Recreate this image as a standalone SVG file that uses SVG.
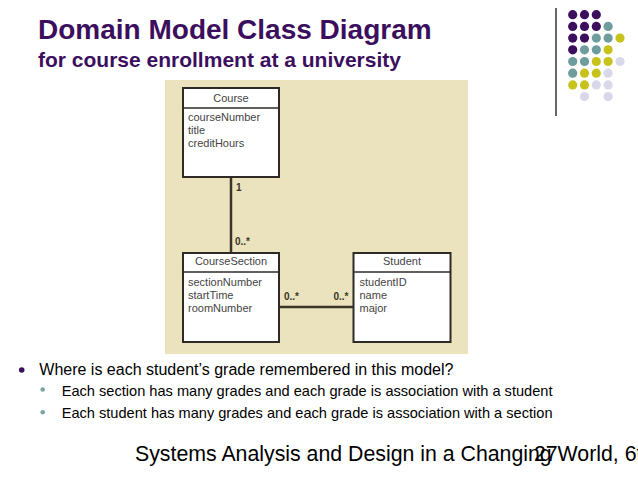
<svg xmlns="http://www.w3.org/2000/svg" width="638" height="479" viewBox="0 0 638 479">
<style>
.title{font-family:"Liberation Sans",Arial,sans-serif;font-weight:bold;fill:#3b0f5e}
.box{fill:#ffffff;stroke:#2e2b26;stroke-width:2}
.div{stroke:#2e2b26;stroke-width:1.5}
.cn{font-family:"Liberation Sans",Arial,sans-serif;font-size:11px;fill:#444;text-anchor:middle}
.at{font-family:"Liberation Sans",Arial,sans-serif;font-size:11px;fill:#444}
.mul{font-family:"Liberation Sans",Arial,sans-serif;font-size:10px;font-weight:bold;fill:#3a3528}
.conn{stroke:#3a3528;stroke-width:2.5;fill:none}
.body{font-family:"Liberation Sans",Arial,sans-serif;fill:#000}
.p{fill:#3b0f5e}.t{fill:#6f9c9c}.y{fill:#c8c31c}.l{fill:#d8d8ea}
</style>
<rect width="638" height="479" fill="#ffffff"/>
<text class="title" x="38" y="39" font-size="28">Domain Model Class Diagram</text>
<text class="title" x="38" y="67" font-size="21">for course enrollment at a university</text>
<line x1="556" y1="8" x2="556" y2="116" stroke="#000" stroke-width="1.2"/>
<g id="dots">
<circle class="p" cx="572.7" cy="14.7" r="4.6"/><circle class="p" cx="584.5" cy="14.7" r="4.6"/><circle class="p" cx="596.3" cy="14.7" r="4.6"/>
<circle class="p" cx="572.7" cy="26.4" r="4.6"/><circle class="p" cx="584.5" cy="26.4" r="4.6"/><circle class="p" cx="596.3" cy="26.4" r="4.6"/><circle class="t" cx="608.1" cy="26.4" r="4.6"/>
<circle class="p" cx="572.7" cy="38.1" r="4.6"/><circle class="p" cx="584.5" cy="38.1" r="4.6"/><circle class="t" cx="596.3" cy="38.1" r="4.6"/><circle class="t" cx="608.1" cy="38.1" r="4.6"/><circle class="y" cx="620" cy="38.1" r="4.6"/>
<circle class="p" cx="572.7" cy="49.8" r="4.6"/><circle class="t" cx="584.5" cy="49.8" r="4.6"/><circle class="t" cx="596.3" cy="49.8" r="4.6"/><circle class="y" cx="608.1" cy="49.8" r="4.6"/>
<circle class="t" cx="572.7" cy="61.5" r="4.6"/><circle class="t" cx="584.5" cy="61.5" r="4.6"/><circle class="y" cx="596.3" cy="61.5" r="4.6"/><circle class="y" cx="608.1" cy="61.5" r="4.6"/><circle class="l" cx="620" cy="61.5" r="4.6"/>
<circle class="t" cx="572.7" cy="73.2" r="4.6"/><circle class="y" cx="584.5" cy="73.2" r="4.6"/><circle class="y" cx="596.3" cy="73.2" r="4.6"/><circle class="l" cx="608.1" cy="73.2" r="4.6"/>
<circle class="y" cx="572.7" cy="84.9" r="4.6"/><circle class="y" cx="584.5" cy="84.9" r="4.6"/><circle class="l" cx="596.3" cy="84.9" r="4.6"/><circle class="l" cx="608.1" cy="84.9" r="4.6"/>
<circle class="l" cx="584.5" cy="96.6" r="4.6"/><circle class="l" cx="608.1" cy="96.6" r="4.6"/>
</g>
<rect x="165" y="80" width="303" height="274" fill="#eae3bd"/>
<g id="connectors">
<line class="conn" x1="231" y1="177" x2="231" y2="253"/>
<line class="conn" x1="279" y1="307" x2="353.5" y2="307"/>
<text class="mul" x="236" y="191">1</text>
<text class="mul" x="235" y="245">0..*</text>
<text class="mul" x="284" y="300">0..*</text>
<text class="mul" x="333.5" y="300">0..*</text>
</g>
<g id="Course">
<rect class="box" x="183" y="88" width="96" height="89"/>
<line class="div" x1="183" y1="108" x2="279" y2="108"/>
<text class="cn" x="231" y="102">Course</text>
<text class="at" x="188" y="121">courseNumber</text>
<text class="at" x="188" y="134">title</text>
<text class="at" x="188" y="147">creditHours</text>
</g>
<g id="CourseSection">
<rect class="box" x="183" y="253" width="96" height="89"/>
<line class="div" x1="183" y1="272" x2="279" y2="272"/>
<text class="cn" x="231" y="265">CourseSection</text>
<text class="at" x="188" y="286">sectionNumber</text>
<text class="at" x="188" y="299">startTime</text>
<text class="at" x="188" y="312">roomNumber</text>
</g>
<g id="Student">
<rect class="box" x="353.5" y="253" width="97" height="89"/>
<line class="div" x1="353.5" y1="272" x2="450.5" y2="272"/>
<text class="cn" x="402" y="265">Student</text>
<text class="at" x="359.5" y="286">studentID</text>
<text class="at" x="359.5" y="299">name</text>
<text class="at" x="359.5" y="312">major</text>
</g>
<circle cx="21.7" cy="370" r="2.8" fill="#3b0f5e"/>
<text class="body" x="39.3" y="375" font-size="16">Where is each student’s grade remembered in this model?</text>
<circle cx="42.7" cy="389.5" r="2.3" fill="#7fa3a3"/>
<text class="body" x="61.7" y="396" font-size="14.6">Each section has many grades and each grade is association with a student</text>
<circle cx="42.7" cy="412.3" r="2.3" fill="#7fa3a3"/>
<text class="body" x="61.7" y="418.3" font-size="14.6">Each student has many grades and each grade is association with a section</text>
<text class="body" x="135" y="461" font-size="21.3">Systems Analysis and Design in a Changing World, 6t</text>
<text class="body" x="534" y="461" font-size="21.3">27</text>
</svg>
